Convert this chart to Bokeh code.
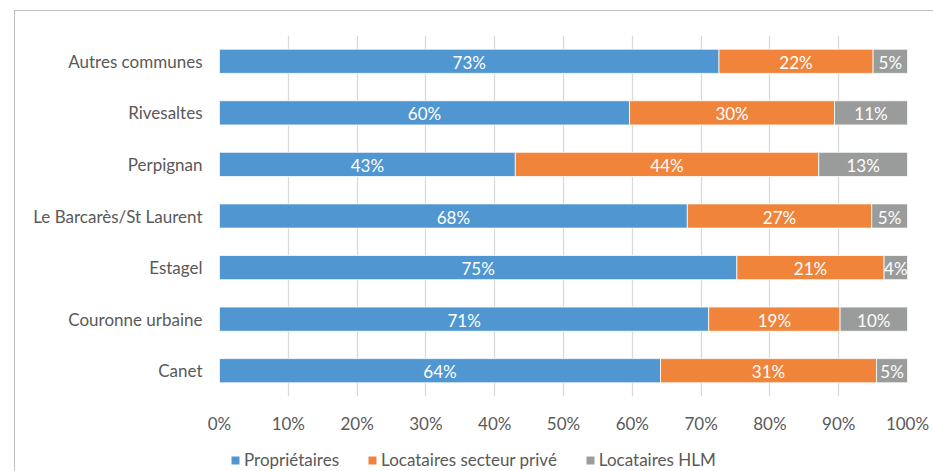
from bokeh.plotting import figure
from bokeh.layouts import column
from bokeh.models import ColumnDataSource, FactorRange, LabelSet, Legend, LegendItem, NumeralTickFormatter, FixedTicker
from bokeh.core.properties import value
from bokeh.embed import file_html
from bokeh.resources import INLINE

# Data (top to bottom as in the chart)
communes = ["Autres communes", "Rivesaltes", "Perpignan", "Le Barcarès/St Laurent",
            "Estagel", "Couronne urbaine", "Canet"]
proprietaires = [72.6, 59.6, 43.0, 68.0, 75.2, 71.1, 64.1]
locataires_prive = [22.4, 29.8, 44.1, 26.8, 21.4, 19.1, 31.4]
locataires_hlm = [5.0, 10.6, 12.9, 5.2, 3.4, 9.8, 4.5]
labels_prop = ["73%", "60%", "43%", "68%", "75%", "71%", "64%"]
labels_prive = ["22%", "30%", "44%", "27%", "21%", "19%", "31%"]
labels_hlm = ["5%", "11%", "13%", "5%", "4%", "10%", "5%"]
series_names = ["Propriétaires", "Locataires secteur privé", "Locataires HLM"]
colors = ["#5097D1", "#F0843B", "#9A9C9C"]
x_ticks = [0, 10, 20, 30, 40, 50, 60, 70, 80, 90, 100]

FONT = "Lato"
TXT = "#595959"
FS = "17px"

p_frac = [v / 100 for v in proprietaires]
l_frac = [v / 100 for v in locataires_prive]
h_frac = [v / 100 for v in locataires_hlm]

src = ColumnDataSource(dict(
    commune=communes,
    p=p_frac, l=l_frac, h=h_frac,
))

p = figure(
    y_range=FactorRange(*list(reversed(communes)), range_padding=0),
    x_range=(0, 1),
    frame_width=688, frame_height=361,
    min_border_left=204, min_border_top=24, min_border_right=26, min_border_bottom=40,
    output_backend="svg", toolbar_location=None,
)
p.outline_line_color = None

p.hbar_stack(["p", "l", "h"], y="commune", height=0.47, color=colors,
             line_color="white", line_width=0.8, source=src)

# label sources (segment centers)
for vals, starts, labs in [
    (p_frac, [0] * 7, labels_prop),
    (l_frac, p_frac, labels_prive),
    (h_frac, [a + b for a, b in zip(p_frac, l_frac)], labels_hlm),
]:
    ls = ColumnDataSource(dict(
        x=[s + v / 2 for s, v in zip(starts, vals)],
        y=communes,
        t=labs,
    ))
    p.add_layout(LabelSet(x="x", y="y", text="t", source=ls, text_align="center",
                          text_baseline="middle", text_color="white",
                          text_font=value(FONT), text_font_size=FS, y_offset=-1))

p.xaxis.ticker = FixedTicker(ticks=[t / 100 for t in x_ticks])
p.xaxis.formatter = NumeralTickFormatter(format="0%")
p.xgrid.ticker = FixedTicker(ticks=[t / 100 for t in x_ticks])
p.xgrid.grid_line_color = "#d9d9d9"
p.xgrid.grid_line_width = 1.3
p.ygrid.grid_line_color = None

for ax in (p.xaxis, p.yaxis):
    ax.axis_line_color = None
    ax.major_tick_line_color = None
    ax.minor_tick_line_color = None
    ax.major_tick_out = 0
    ax.major_label_text_color = TXT
    ax.major_label_text_font = FONT
    ax.major_label_text_font_size = FS
p.xaxis.major_label_standoff = 16
p.yaxis.major_label_standoff = 17

# legend strip below the chart (zero-size proxy bars carry the legend swatches)
p2 = figure(
    width=918, height=35, x_range=(0, 1), y_range=(0, 1),
    x_axis_location=None, y_axis_location=None,
    min_border=0, output_backend="svg", toolbar_location=None,
)
p2.outline_line_color = None
p2.grid.grid_line_color = None
legend_renderers = [
    p2.hbar(y=[0.5], left=[0], right=[0], height=0, color=c, line_alpha=0) for c in colors
]

legend = Legend(
    items=[LegendItem(label=n, renderers=[r]) for n, r in zip(series_names, legend_renderers)],
    orientation="horizontal",
    location=(11, 1),
    glyph_width=10, glyph_height=10,
    label_text_font=FONT, label_text_font_size=FS, label_text_color=TXT,
    label_standoff=4, spacing=28, padding=0, margin=0,
    border_line_color=None, background_fill_alpha=0,
)
p2.add_layout(legend, "center")

layout = column(
    p, p2, spacing=0,
    margin=(10, 0, 0, 14),
    styles={"border-top": "1px solid #bfbfbf", "border-left": "1px solid #bfbfbf"},
)

open("out.html", "w").write(file_html(layout, INLINE))
